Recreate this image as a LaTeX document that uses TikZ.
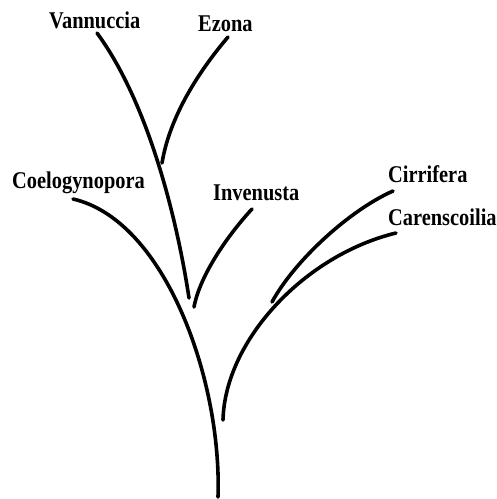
\documentclass[tikz,border=0pt]{standalone}
\usepackage{fontspec}
\newfontfamily\lblfont{Liberation Serif}[FakeStretch=0.85]

\begin{document}
\begin{tikzpicture}[
            x=1pt, y=-1pt,
            every node/.style={font=\lblfont\bfseries\fontsize{24}{26}\selectfont},
            lbl/.style={anchor=base west, inner sep=0pt},
            branch/.style={line width=3.6pt, line cap=round}
        ]
        \useasboundingbox (0,0) rectangle (497,499);

        % Labels
        \node[lbl] (vannuccia) at (49,28) {Vannuccia};
        \node[lbl] (ezona) at (198,31) {Ezona};
        \node[lbl] (coelo) at (12,188) {Coelogynopora};
        \node[lbl] (invenusta) at (213,200) {Invenusta};
        \node[lbl] (cirrifera) at (388,182) {Cirrifera};
        \node[lbl] (carens) at (388,225) {Carenscoilia};

        % Tips and joins
        \coordinate (tip_v) at (97,33);
        \coordinate (tip_e) at (228,37);
        \coordinate (tip_co) at (73,199);
        \coordinate (tip_i) at (252,209);
        \coordinate (tip_ci) at (393,191);
        \coordinate (tip_ca) at (396,233);
        \coordinate (join_e) at (162,163);
        \coordinate (join_v) at (189,298);
        \coordinate (join_i) at (194,307);
        \coordinate (join_ci) at (272,302);
        \coordinate (join_ca) at (223,420);
        \coordinate (root) at (218,497);

        % === BRANCHES ===

        % Coelogynopora down to the root
        \draw[branch] (tip_co) .. controls (165,220) and (222,380) .. (root);

        % Vannuccia
        \draw[branch] (tip_v) .. controls (150,105) and (178,225) .. (join_v);

        % Ezona
        \draw[branch] (tip_e) .. controls (200,70) and (170,115) .. (join_e);

        % Invenusta
        \draw[branch] (tip_i) .. controls (228,235) and (200,275) .. (join_i);

        % Cirrifera
        \draw[branch] (tip_ci) .. controls (350,210) and (295,260) .. (join_ci);

        % Carenscoilia
        \draw[branch] (tip_ca) .. controls (305,255) and (225,340) .. (join_ca);

    \end{tikzpicture}
\end{document}
